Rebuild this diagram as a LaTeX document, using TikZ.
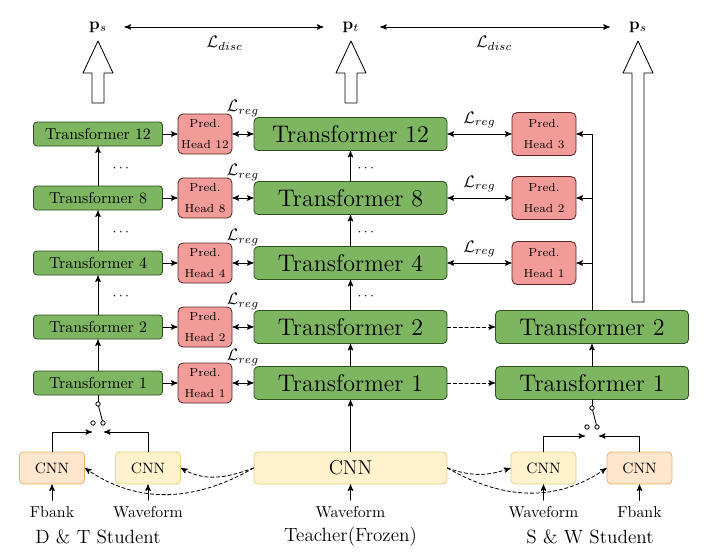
\documentclass[tikz,border=0pt]{standalone}
\usepackage{amsmath,amsfonts,bm}
\usepackage{tikz}
\usetikzlibrary{arrows}
\usetikzlibrary{positioning}
\definecolor{trgreen}{rgb}{0.49,0.71,0.38}
\definecolor{trline}{rgb}{0.18,0.31,0.12}
\definecolor{hdred}{rgb}{0.945,0.612,0.6}
\definecolor{hdline}{rgb}{0.33,0.15,0.15}
\definecolor{cnnyel}{rgb}{1.,0.949,0.8}
\definecolor{cnnyelline}{rgb}{0.9,0.82,0.5}
\definecolor{cnnora}{rgb}{1.,0.902,0.8}
\definecolor{cnnoraline}{rgb}{0.9,0.7,0.42}

\begin{document}
\begin{tikzpicture}[line cap=round,line join=round,>=stealth',x=0.6pt,y=-0.6pt,line width=0.5pt,
  stu/.style={draw=trline,fill=trgreen,rounded corners=2pt,minimum width=77.4pt,minimum height=14.4pt,inner sep=0pt,font=\fontsize{9.5}{11}\selectfont},
  tea/.style={draw=trline,fill=trgreen,rounded corners=2.5pt,minimum width=115.8pt,minimum height=19.8pt,inner sep=0pt,font=\Large},
  head/.style={draw=hdline,fill=hdred,rounded corners=3pt,minimum width=32.4pt,minimum height=24pt,inner sep=0pt,align=center,font=\scriptsize},
  bighead/.style={head,minimum width=38.4pt,minimum height=25.8pt},
  cnnw/.style={draw=cnnyelline,fill=cnnyel,rounded corners=2.5pt,minimum width=39pt,minimum height=19.2pt,inner sep=0pt,font=\small},
  cnnf/.style={cnnw,draw=cnnoraline,fill=cnnora},
  dsh/.style={dash pattern=on 2pt off 1.5pt},
  lbl/.style={font=\fontsize{9.5}{11}\selectfont},
  grp/.style={font=\fontsize{11.5}{13}\selectfont}
]
\useasboundingbox (0,0) rectangle (720,559);
\node (ps1) at (98,27) {$\mathbf{p}_s$};
\node (pt) at (351,27) {$\mathbf{p}_t$};
\node (ps2) at (638,27) {$\mathbf{p}_s$};
\draw [<->,shorten <=7pt,shorten >=8pt] (ps1) -- (pt) node[midway,below=2pt] {$\mathcal{L}_{disc}$};
\draw [<->,shorten <=9pt,shorten >=8pt] (pt) -- (ps2) node[midway,below=2pt] {$\mathcal{L}_{disc}$};
\draw [fill=white] (92,103) -- (92,73) -- (83,73) -- (98,41) -- (113,73) -- (104,73) -- (104,103) -- cycle;
\draw [fill=white] (345,103) -- (345,73) -- (336,73) -- (351,41) -- (366,73) -- (357,73) -- (357,103) -- cycle;
\draw [fill=white] (632,302) -- (632,73) -- (623,73) -- (638,41) -- (653,73) -- (644,73) -- (644,302) -- cycle;
\node[stu] (s12) at (98,134) {Transformer 12};
\node[stu] (s8) at (98,198) {Transformer 8};
\node[stu] (s4) at (98,263) {Transformer 4};
\node[stu] (s2) at (98,327) {Transformer 2};
\node[stu] (s1) at (98,383) {Transformer 1};
\node[head] (h12) at (205,134) {Pred.\\[4.5pt]Head 12};
\node[head] (h8) at (205,198) {Pred.\\[4.5pt]Head 8};
\node[head] (h4) at (205,263) {Pred.\\[4.5pt]Head 4};
\node[head] (h2) at (205,327) {Pred.\\[4.5pt]Head 2};
\node[head] (h1) at (205,383) {Pred.\\[4.5pt]Head 1};
\node[tea] (t12) at (350.5,134) {Transformer 12};
\node[tea] (t8) at (350.5,198) {Transformer 8};
\node[tea] (t4) at (350.5,263) {Transformer 4};
\node[tea] (t2) at (350.5,327) {Transformer 2};
\node[tea] (t1) at (350.5,383) {Transformer 1};
\node[bighead] (r3) at (544,134) {Pred.\\[4.5pt]Head 3};
\node[bighead] (r2) at (544,198) {Pred.\\[4.5pt]Head 2};
\node[bighead] (r1) at (544,263) {Pred.\\[4.5pt]Head 1};
\node[tea] (w2) at (592,327) {Transformer 2};
\node[tea] (w1) at (592,383) {Transformer 1};
\node[cnnf] (cf) at (52,468) {CNN};
\node[cnnw] (cw) at (148,468) {CNN};
\node[cnnw,minimum width=115.8pt,font=\large] (ct) at (350.5,468) {CNN};
\node[cnnw] (rw) at (543.5,468) {CNN};
\node[cnnf] (rf) at (639.5,468) {CNN};
\node[lbl] (inf) at (52,512) {Fbank};
\node[lbl] (inw) at (148,512) {Waveform};
\node[lbl] (int) at (350.5,512) {Waveform};
\node[lbl] (inrw) at (543.5,512) {Waveform};
\node[lbl] (inrf) at (639.5,512) {Fbank};
\node[grp] (gdt) at (98,537) {D \& T Student};
\node[grp] (gtf) at (350.5,537) {Teacher(Frozen)};
\node[grp] (gsw) at (590,537) {S \& W Student};
\begin{footnotesize}
\node (dl1) at (122,168) {$\cdots$};
\node (dl2) at (122,232) {$\cdots$};
\node (dl3) at (122,296) {$\cdots$};
\node (dt1) at (367,168) {$\cdots$};
\node (dt2) at (367,232) {$\cdots$};
\node (dt3) at (367,296) {$\cdots$};
\end{footnotesize}
\draw [->] (s1) -- (s2);
\draw [->] (s2) -- (s4);
\draw [->] (s4) -- (s8);
\draw [->] (s8) -- (s12);
\draw [->] (ct) -- (t1);
\draw [->] (t1) -- (t2);
\draw [->] (t2) -- (t4);
\draw [->] (t4) -- (t8);
\draw [->] (t8) -- (t12);
\draw [->] (w1) -- (w2);
\draw [->] (s12) -- (h12);
\draw [->] (s8) -- (h8);
\draw [->] (s4) -- (h4);
\draw [->] (s2) -- (h2);
\draw [->] (s1) -- (h1);
\draw [<->] (h12) -- (t12) node[midway,above=7pt] {$\mathcal{L}_{reg}$};
\draw [<->] (h8) -- (t8) node[midway,above=7pt] {$\mathcal{L}_{reg}$};
\draw [<->] (h4) -- (t4) node[midway,above=7pt] {$\mathcal{L}_{reg}$};
\draw [<->] (h2) -- (t2) node[midway,above=7pt] {$\mathcal{L}_{reg}$};
\draw [<->] (h1) -- (t1) node[midway,above=7pt] {$\mathcal{L}_{reg}$};
\draw [<->] (t12) -- (r3) node[midway,above] {$\mathcal{L}_{reg}$};
\draw [<->] (t8) -- (r2) node[midway,above] {$\mathcal{L}_{reg}$};
\draw [<->] (t4) -- (r1) node[midway,above] {$\mathcal{L}_{reg}$};
\draw [->] (w2.north) |- (r3.east);
\draw [->] (w2.north |- r2.east) -- (r2.east);
\draw [->] (w2.north |- r1.east) -- (r1.east);
\draw [dsh,->] (t2) -- (w2);
\draw [dsh,->] (t1) -- (w1);
\draw [->] (inf) -- (cf);
\draw [->] (inw) -- (cw);
\draw [->] (int) -- (ct);
\draw [->] (inrw) -- (rw);
\draw [->] (inrf) -- (rf);
\draw [dsh,->] (ct.west) to[out=200,in=-30] (cw.east);
\draw [dsh,->] (ct.west) to[out=210,in=-35] (cf.east);
\draw [dsh,->] (ct.east) to[out=-20,in=200] (rw.west);
\draw [dsh,->] (ct.east) to[out=-30,in=215] (rf.west);
\coordinate (swl) at (98,404);
\coordinate (swla) at (93,423);
\coordinate (swlb) at (103,423);
\coordinate (inla) at (92,432);
\coordinate (inlb) at (104,432);
\draw (s1) -- (swl);
\draw (swl) -- (swlb);
\draw [->] (cf.north) |- (inla);
\draw [->] (cw.north) |- (inlb);
\draw [fill=white] (swl) circle (1.3pt);
\draw [fill=white] (swla) circle (1.3pt);
\draw [fill=white] (swlb) circle (1.3pt);
\coordinate (swr) at (592,408);
\coordinate (swra) at (587,427);
\coordinate (swrb) at (597,427);
\coordinate (inra) at (585,436);
\coordinate (inrb) at (599,436);
\draw (w1) -- (swr);
\draw (swr) -- (swrb);
\draw [->] (rw.north) |- (inra);
\draw [->] (rf.north) |- (inrb);
\draw [fill=white] (swr) circle (1.3pt);
\draw [fill=white] (swra) circle (1.3pt);
\draw [fill=white] (swrb) circle (1.3pt);
\end{tikzpicture}
\end{document}
